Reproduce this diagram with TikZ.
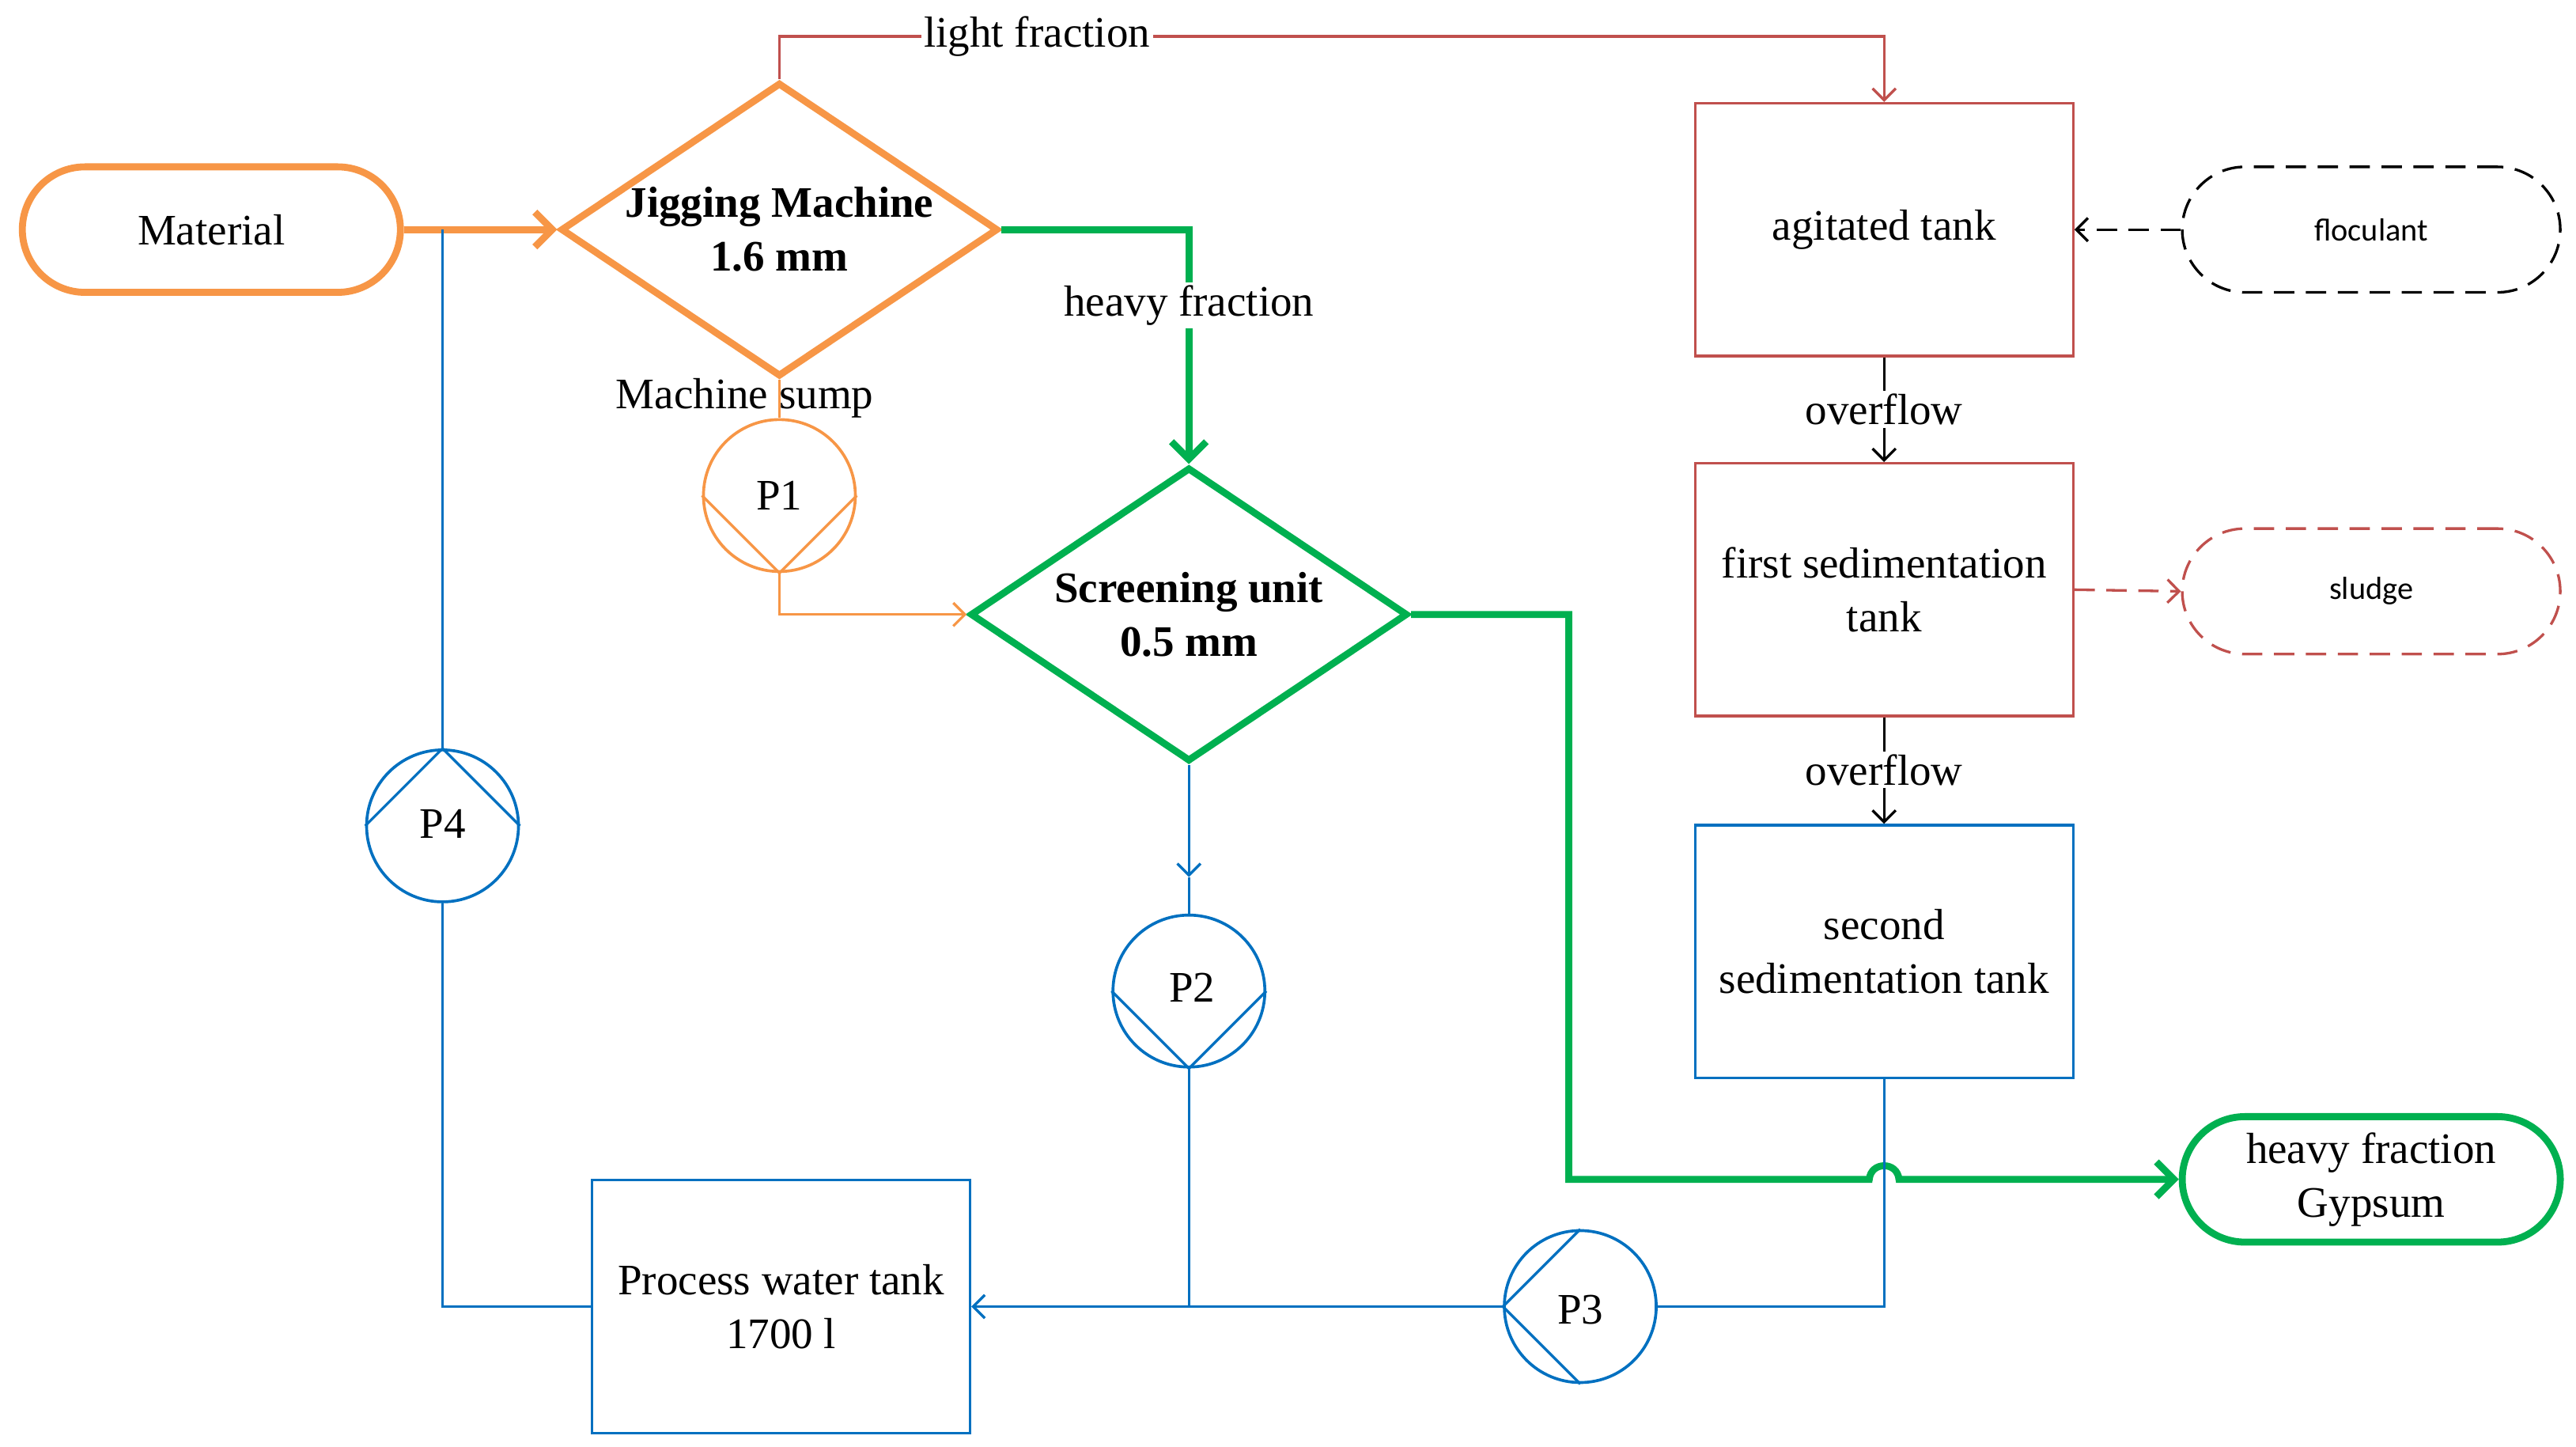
\documentclass[tikz,border=0pt]{standalone}
\usepackage{fontspec}
\setmainfont{Liberation Serif}
\newfontfamily\smallsans{Carlito}
\usetikzlibrary{positioning,shapes.geometric,arrows.meta}
\definecolor{jigorange}{RGB}{247,150,70}
\definecolor{sepgreen}{RGB}{0,176,80}
\definecolor{waterblue}{RGB}{0,112,192}
\definecolor{tankred}{RGB}{192,80,77}
\tikzset{
    txt/.style={font=\fontsize{15}{18.5}\selectfont, align=center},
    box/.style={draw, line width=0.9pt, minimum width=4.58cm, minimum height=3.06cm, txt},
    term/.style={draw, rounded corners=0.76cm, minimum width=4.58cm, minimum height=1.52cm, txt},
    pump/.style={draw, circle, line width=1pt, inner sep=0pt, minimum size=1.84cm},
    sep/.style={draw, diamond, inner sep=0pt, minimum width=5.3cm, minimum height=3.56cm},
    thick line/.style={line width=2.4pt},
    thin line/.style={line width=0.9pt},
    longdash/.style={dash pattern=on 7pt off 4pt},
    barb/.style={-{Straight Barb[length=4pt,width=8pt]}},
    bigbarb/.style={-{Straight Barb[length=6pt,width=12pt,line width=2.4pt]}},
    lbl/.style={txt, fill=white, inner sep=1pt}
}
\begin{document}
\begin{tikzpicture}[x=0.02cm, y=-0.02cm]
    \useasboundingbox (0,0) rectangle (1560,876);

    % feed and jigging
    \node[term, jigorange, thick line, text=black] (material) at (128,139) {Material};
    \node[sep, jigorange, thick line] (jig) at (472,139) {};
    \node[txt, font=\fontsize{15}{18.5}\selectfont\bfseries] (jigtxt) at (472,139) {Jigging Machine\\1.6 mm};
    \node[sep, sepgreen, thick line] (screen) at (720,372) {};
    \node[txt, font=\fontsize{15}{18.5}\selectfont\bfseries] (screentxt) at (720,372) {Screening unit\\0.5 mm};

    % tanks
    \node[box, tankred, text=black] (agit) at (1141,139) {agitated tank};
    \node[box, tankred, text=black] (sed1) at (1141,357) {first sedimentation\\tank};
    \node[box, waterblue, text=black] (sed2) at (1141,576) {second\\sedimentation tank};
    \node[box, waterblue, text=black] (water) at (473,791) {Process water tank\\1700 l};
    \node[term, longdash, thin line, font=\smallsans\fontsize{11}{13}\selectfont] (floc) at (1436,139) {floculant};
    \node[term, longdash, thin line, tankred, text=black, font=\smallsans\fontsize{11}{13}\selectfont] (sludge) at (1436,358) {sludge};
    \node[term, sepgreen, thick line, text=black] (gypsum) at (1436,714) {heavy fraction\\Gypsum};

    % pumps
    \node[pump, jigorange] (p1) at (472,300) {};
    \node[pump, waterblue] (p2) at (720,600) {};
    \node[pump, waterblue] (p3) at (957,791) {};
    \node[pump, waterblue] (p4) at (268,500) {};
    \node[txt] (p1txt) at (472,300) {P1};
    \node[txt] (p2txt) at (722,598) {P2};
    \node[txt] (p3txt) at (957,793) {P3};
    \node[txt] (p4txt) at (268,499) {P4};
    \draw[jigorange, thin line] (p1.west) -- (p1.south) -- (p1.east);
    \draw[waterblue, thin line] (p2.west) -- (p2.south) -- (p2.east);
    \draw[waterblue, thin line] (p3.north) -- (p3.west) -- (p3.south);
    \draw[waterblue, thin line] (p4.west) -- (p4.north) -- (p4.east);

    % coordinates for bends
    \coordinate (lightup) at (472,22);
    \coordinate (lightover) at (1141,22);
    \coordinate (heavybend) at (720,139);
    \coordinate (outbend) at (950,372);
    \coordinate (outdown) at (950,714);
    \coordinate (p1bend) at (472,372);
    \coordinate (p2join) at (720,791);
    \coordinate (sed2bend) at (1141,791);
    \coordinate (p4bend) at (268,791);
    \coordinate (p4top) at (268,139);

    % material flows
    \draw[jigorange, thick line, bigbarb] (material) -- (jig.west);
    \draw[tankred, thin line, barb] (jig.north) -- (lightup) -- (lightover) -- (agit.north);
    \node[lbl] (lightlbl) at (628,22) {light fraction};
    \draw[sepgreen, thick line, bigbarb] (jig.east) -- (heavybend) -- (screen.north);
    \node[lbl] (heavylbl) at (720,185) {heavy fraction};
    \draw[sepgreen, thick line, bigbarb] (screen.east) -- (outbend) -- (outdown) -- (1132,714)
        .. controls (1133,703) and (1149,703) .. (1150,714) -- (gypsum.west);

    \draw[jigorange, thin line] (jig.south) -- (p1.north);
    \node[txt] (sumplbl) at (451,241) {Machine sump};
    \draw[jigorange, thin line, barb] (p1.south) -- (p1bend) -- (screen.west);

    % tank chain
    \draw[thin line, barb] (agit.south) -- (sed1.north);
    \node[lbl] (over1) at (1141,248) {overflow};
    \draw[thin line, barb] (sed1.south) -- (sed2.north);
    \node[lbl] (over2) at (1141,466) {overflow};
    \draw[thin line, longdash, barb] (floc.west) -- (agit.east);
    \draw[tankred, thin line, longdash, barb] (sed1.east) -- (sludge.west);

    % water loop
    \draw[waterblue, thin line, barb] (screen.south) -- (720,531);
    \draw[waterblue, thin line] (720,531) -- (p2.north);
    \draw[waterblue, thin line, barb] (p2.south) -- (p2join) -- (water.east);
    \draw[waterblue, thin line] (sed2.south) -- (sed2bend) -- (p3.east);
    \draw[waterblue, thin line] (p3.west) -- (p2join);
    \draw[waterblue, thin line] (water.west) -- (p4bend) -- (p4.south);
    \draw[waterblue, thin line] (p4.north) -- (p4top);
\end{tikzpicture}
\end{document}
